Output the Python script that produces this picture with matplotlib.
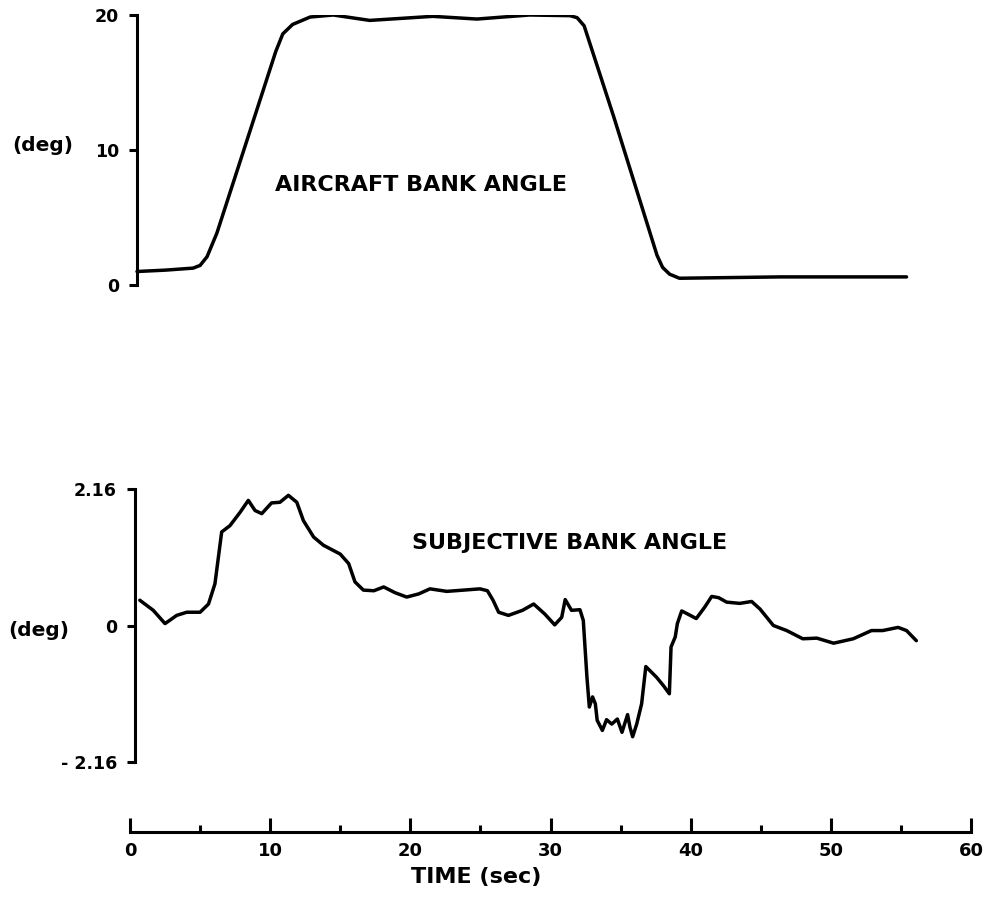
import matplotlib
matplotlib.use("Agg")
import matplotlib.pyplot as plt
from matplotlib.ticker import MultipleLocator

# aircraft bank angle (deg) vs time (sec)
t_aircraft = [0.5, 2.5, 4.5, 5.0, 5.5, 6.2, 10.4, 10.9, 11.6, 12.85, 14.5, 17.1,
              21.6, 24.75, 28.5, 31.4, 31.9, 32.4, 34.5, 37.6, 38.0, 38.5, 39.2,
              46.4, 55.4]
bank_aircraft = [1.0, 1.1, 1.25, 1.45, 2.1, 3.85, 17.3, 18.6, 19.3, 19.85, 20.0, 19.6,
                 19.9, 19.7, 20.0, 19.95, 19.8, 19.2, 12.5, 2.2, 1.3, 0.8, 0.5,
                 0.6, 0.6]

# subjective bank angle (deg) vs time (sec)
t_subjective = [0.7, 1.66, 2.5, 3.33, 4.05, 5.0, 5.6, 6.06, 6.54, 7.13, 7.85,
                8.44, 8.92, 9.4, 10.1, 10.7, 11.3, 11.9, 12.37, 13.1, 13.8,
                15.0, 15.6, 16.05, 16.65, 17.4, 18.1, 18.9, 19.74, 20.6, 21.4,
                22.6, 23.8, 24.97, 25.5, 25.9, 26.3, 27.0, 28.0, 28.8, 29.6,
                30.3, 30.8, 31.05, 31.5, 32.1, 32.34, 32.6, 32.77, 33.0, 33.2,
                33.33, 33.7, 34.0, 34.37, 34.77, 35.1, 35.5, 35.67, 35.86, 36.15,
                36.5, 36.8, 37.57, 38.05, 38.48, 38.6, 38.9, 39.05, 39.36, 39.8,
                40.4, 41.0, 41.5, 42.0, 42.56, 43.5, 44.35, 44.95, 45.9, 46.85,
                48.0, 49.0, 50.2, 51.6, 52.9, 53.7, 54.8, 55.4, 56.1]
bank_subjective = [0.40, 0.24, 0.03, 0.16, 0.21, 0.21, 0.34, 0.66, 1.48, 1.58, 1.79,
                   1.98, 1.82, 1.77, 1.94, 1.95, 2.06, 1.95, 1.66, 1.40, 1.27,
                   1.13, 0.98, 0.69, 0.56, 0.55, 0.61, 0.52, 0.45, 0.50, 0.58,
                   0.54, 0.56, 0.58, 0.55, 0.40, 0.21, 0.16, 0.24, 0.34, 0.18,
                   0.01, 0.13, 0.41, 0.24, 0.25, 0.08, -0.82, -1.29, -1.13, -1.24,
                   -1.50, -1.66, -1.49, -1.56, -1.48, -1.69, -1.41, -1.61, -1.76, -1.56,
                   -1.24, -0.65, -0.82, -0.95, -1.08, -0.34, -0.18, 0.03, 0.23, 0.18,
                   0.11, 0.29, 0.46, 0.44, 0.37, 0.35, 0.38, 0.26, 0.0, -0.08,
                   -0.21, -0.20, -0.28, -0.21, -0.08, -0.08, -0.03, -0.08, -0.24]

time_ticks = [0, 10, 20, 30, 40, 50, 60]
top_ticks = [0, 10, 20]
bottom_ticks = [-2.16, 0, 2.16]
bottom_labels = ["- 2.16", "0", "2.16"]

FONT = "DejaVu Sans"
LW = 2.5
SPINE_LW = 2.2

fig = plt.figure(figsize=(9.93, 8.97), dpi=100)

left, width = 130 / 993, 841 / 993
ax_top = fig.add_axes([left, 1 - 285 / 897, width, 270 / 897])
ax_bot = fig.add_axes([left, 1 - 762 / 897, width, 273 / 897])
ax_time = fig.add_axes([left, 1 - 832 / 897, width, 0.02])


def style_y(ax, x_spine, lo, hi):
    for s in ("top", "right", "bottom"):
        ax.spines[s].set_visible(False)
    ax.spines["left"].set_position(("data", x_spine))
    ax.spines["left"].set_bounds(lo, hi)
    ax.spines["left"].set_linewidth(SPINE_LW)
    ax.set_xlim(0, 60)
    ax.set_ylim(lo, hi)
    ax.set_xticks([])
    ax.tick_params(axis="y", direction="out", length=6, width=SPINE_LW, pad=7)
    for lbl in ax.get_yticklabels():
        lbl.set_fontweight("bold")
        lbl.set_fontsize(12.5)
        lbl.set_family(FONT)


line_kw = dict(color="black", lw=LW, solid_capstyle="round", solid_joinstyle="round")

# top panel
ax_top.plot(t_aircraft, bank_aircraft, **line_kw)
ax_top.set_yticks(top_ticks)
style_y(ax_top, 0.5, 0, 20)
ax_top.set_ylabel("(deg)", rotation=0, fontsize=14.5, fontweight="bold", family=FONT)
ax_top.yaxis.set_label_coords(-0.1034, 0.481)
ax_top.text(10.35, 7.4, "AIRCRAFT BANK ANGLE", fontsize=16, fontweight="bold",
            family=FONT, va="center", ha="left")

# bottom panel
ax_bot.plot(t_subjective, bank_subjective, **line_kw)
ax_bot.set_yticks(bottom_ticks)
ax_bot.set_yticklabels(bottom_labels)
style_y(ax_bot, 0.35, -2.16, 2.16)
ax_bot.set_ylabel("(deg)", rotation=0, fontsize=14.5, fontweight="bold", family=FONT)
ax_bot.yaxis.set_label_coords(-0.109, 0.447)
ax_bot.text(20.1, 1.30, "SUBJECTIVE BANK ANGLE", fontsize=16, fontweight="bold",
            family=FONT, va="center", ha="left")

# time axis
for s in ("top", "right", "left"):
    ax_time.spines[s].set_visible(False)
ax_time.spines["bottom"].set_linewidth(SPINE_LW)
ax_time.spines["bottom"].set_bounds(0, 60)
ax_time.set_xlim(0, 60)
ax_time.set_yticks([])
ax_time.set_xticks(time_ticks)
ax_time.xaxis.set_minor_locator(MultipleLocator(5))
ax_time.tick_params(axis="x", which="major", direction="in", length=10, width=SPINE_LW,
                    pad=7, labelsize=13)
ax_time.tick_params(axis="x", which="minor", direction="in", length=5, width=SPINE_LW)
for lbl in ax_time.get_xticklabels():
    lbl.set_fontweight("bold")
    lbl.set_family(FONT)
ax_time.patch.set_visible(False)

fig.text(476 / 993, 1 - 877 / 897, "TIME (sec)", fontsize=16, fontweight="bold",
         family=FONT, ha="center", va="center")

fig.savefig("out.png", dpi=100)
